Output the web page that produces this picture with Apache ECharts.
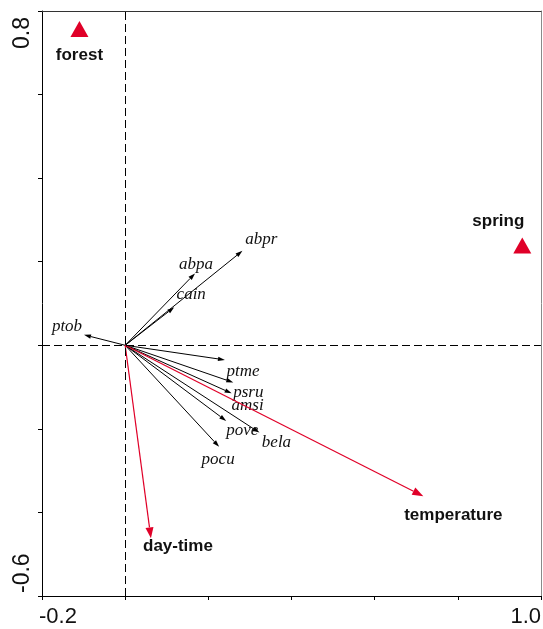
<!DOCTYPE html>
<html>
<head>
<meta charset="utf-8">
<script src="https://cdn.jsdelivr.net/npm/echarts@6/dist/echarts.min.js"></script>
<style>
  html, body { margin: 0; padding: 0; background: #ffffff; }
  #chart { width: 543px; height: 629px; }
</style>
</head>
<body>
<div id="chart"></div>
<script>
// Species scores (biplot arrows)
const speciesNames = ['abpr', 'abpa', 'cain', 'ptob', 'ptme', 'psru', 'amsi', 'pove', 'bela', 'pocu'];
const speciesX = [0.282, 0.168, 0.118, -0.099, 0.240, 0.260, 0.256, 0.243, 0.323, 0.226];
const speciesY = [0.226, 0.172, 0.091, 0.025, -0.035, -0.089, -0.115, -0.181, -0.209, -0.243];

// Quantitative environmental variables
const envNames = ['temperature', 'day-time'];
const envX = [0.717, 0.062];
const envY = [-0.361, -0.462];

// Centroids of the nominal variables
const siteNames = ['forest', 'spring'];
const siteX = [-0.110, 0.955];
const siteY = [0.757, 0.239];

// Axis ranges and the tick labels that are printed
const xMin = -0.2, xMax = 1.0, yMin = -0.6, yMax = 0.8, tickStep = 0.2;
const xTickLabels = ['-0.2', '1.0'];
const yTickLabels = ['-0.6', '0.8'];

// ---- styling ----
const RED = '#e00028';
const INK = '#000000';
const TEXT = '#111111';
const SANS = '"Liberation Sans", Arial, sans-serif';
const SERIF = '"Liberation Serif", "Times New Roman", serif';

// label placement relative to each arrow tip / symbol (pixels)
const speciesLabelOffset = {
  abpr: [19, -11], abpa: [1, -9], cain: [17, -13], ptob: [-17, -8],
  ptme: [18, 12], psru: [15, 10], amsi: [16, 12], pove: [16, 10],
  bela: [17, 10], pocu: [-1, 13]
};
const envLabelOffset = { 'temperature': [30, 19], 'day-time': [27, 8] };
const siteLabelOffset = { forest: [0, 26], spring: [-24, -24] };

function arrowRenderer(names, offsets, opts) {
  return function (params, api) {
    const name = names[params.dataIndex];
    const o = api.coord([0, 0]);
    const t = api.coord([api.value(0), api.value(1)]);
    const dx = t[0] - o[0], dy = t[1] - o[1];
    const len = Math.sqrt(dx * dx + dy * dy) || 1;
    const ux = dx / len, uy = dy / len;
    const bx = t[0] - ux * opts.headLen, by = t[1] - uy * opts.headLen;
    const nx = -uy * opts.headWidth / 2, ny = ux * opts.headWidth / 2;
    const off = offsets[name] || [0, 0];
    return {
      type: 'group',
      children: [
        { type: 'line', shape: { x1: o[0], y1: o[1], x2: bx, y2: by },
          style: { stroke: opts.color, lineWidth: opts.lineWidth } },
        { type: 'polygon', shape: { points: [[t[0], t[1]], [bx + nx, by + ny], [bx - nx, by - ny]] },
          style: { fill: opts.color } },
        { type: 'text', x: t[0] + off[0], y: t[1] + off[1],
          style: { text: name, fill: TEXT, font: opts.font, align: 'center', verticalAlign: 'middle' } }
      ]
    };
  };
}

const speciesData = speciesX.map((x, i) => [x, speciesY[i]]);
const envData = envX.map((x, i) => [x, envY[i]]);
const siteData = siteX.map((x, i) => ({
  value: [x, siteY[i]],
  label: { offset: siteLabelOffset[siteNames[i]] }
}));

const chart = echarts.init(document.getElementById('chart'), null, { renderer: 'canvas' });

const valueAxis = (extra) => Object.assign({
  type: 'value',
  interval: tickStep,
  splitLine: { show: false },
  axisLabel: { show: false },
  axisLine: { show: true, onZero: false, lineStyle: { color: INK, width: 1 } },
  axisTick: { show: true, inside: false, length: 4, lineStyle: { color: INK, width: 1 } }
}, extra);

chart.setOption({
  animation: false,
  backgroundColor: '#ffffff',
  grid: { left: 42, right: 2, top: 11, bottom: 33 },
  xAxis: [
    valueAxis({ min: xMin, max: xMax, position: 'bottom' }),
    valueAxis({ min: xMin, max: xMax, position: 'top',
      axisTick: { show: false }, axisLine: { show: true, onZero: false, lineStyle: { color: '#333333', width: 1 } } })
  ],
  yAxis: [
    valueAxis({ min: yMin, max: yMax, position: 'left' }),
    valueAxis({ min: yMin, max: yMax, position: 'right',
      axisTick: { show: false }, axisLine: { show: true, onZero: false, lineStyle: { color: '#8a8a8a', width: 1 } } })
  ],
  series: [
    {
      // dashed reference lines through the origin
      type: 'scatter',
      data: [],
      silent: true,
      z: 1,
      markLine: {
        silent: true,
        symbol: 'none',
        animation: false,
        label: { show: false },
        lineStyle: { color: INK, width: 1, type: [8, 4] },
        data: [{ xAxis: 0 }, { yAxis: 0 }]
      }
    },
    {
      type: 'custom',
      name: 'species',
      z: 3,
      clip: false,
      renderItem: arrowRenderer(speciesNames, speciesLabelOffset, {
        color: INK, lineWidth: 1, headLen: 7, headWidth: 4.5,
        font: 'italic 17px ' + SERIF
      }),
      encode: { x: 0, y: 1 },
      data: speciesData
    },
    {
      type: 'custom',
      name: 'environment',
      z: 4,
      clip: false,
      renderItem: arrowRenderer(envNames, envLabelOffset, {
        color: RED, lineWidth: 1.2, headLen: 11, headWidth: 8,
        font: 'bold 17px ' + SANS
      }),
      encode: { x: 0, y: 1 },
      data: envData
    },
    {
      type: 'scatter',
      name: 'nominal',
      z: 5,
      symbol: 'triangle',
      symbolSize: [18, 16],
      itemStyle: { color: RED, opacity: 1 },
      label: {
        show: true,
        position: 'inside',
        formatter: (p) => siteNames[p.dataIndex],
        color: TEXT,
        opacity: 1,
        fontFamily: SANS,
        fontWeight: 'bold',
        fontSize: 17
      },
      data: siteData
    }
  ]
});

// End-point tick labels, placed at the axis ticks they belong to
const xLabelY = chart.convertToPixel({ gridIndex: 0 }, [xMin, yMin])[1] + 21;
const yLabelX = chart.convertToPixel({ gridIndex: 0 }, [xMin, yMin])[0] - 19;
const tickGraphics = [];
xTickLabels.forEach((s, i) => {
  const px = chart.convertToPixel({ gridIndex: 0 }, [Number(s), 0])[0];
  tickGraphics.push({
    type: 'text', x: i === 0 ? px - 3 : px, y: xLabelY,
    style: { text: s, font: '22px ' + SANS, fill: TEXT,
      align: i === 0 ? 'left' : 'right', verticalAlign: 'middle' }
  });
});
yTickLabels.forEach((s, i) => {
  const py = chart.convertToPixel({ gridIndex: 0 }, [0, Number(s)])[1];
  tickGraphics.push({
    type: 'text', x: yLabelX, y: i === 0 ? py - 3 : py + 6, rotation: Math.PI / 2,
    style: { text: s, font: '23px ' + SANS, fill: TEXT,
      align: i === 0 ? 'left' : 'right', verticalAlign: 'middle' }
  });
});
chart.setOption({ graphic: tickGraphics });
</script>
</body>
</html>
